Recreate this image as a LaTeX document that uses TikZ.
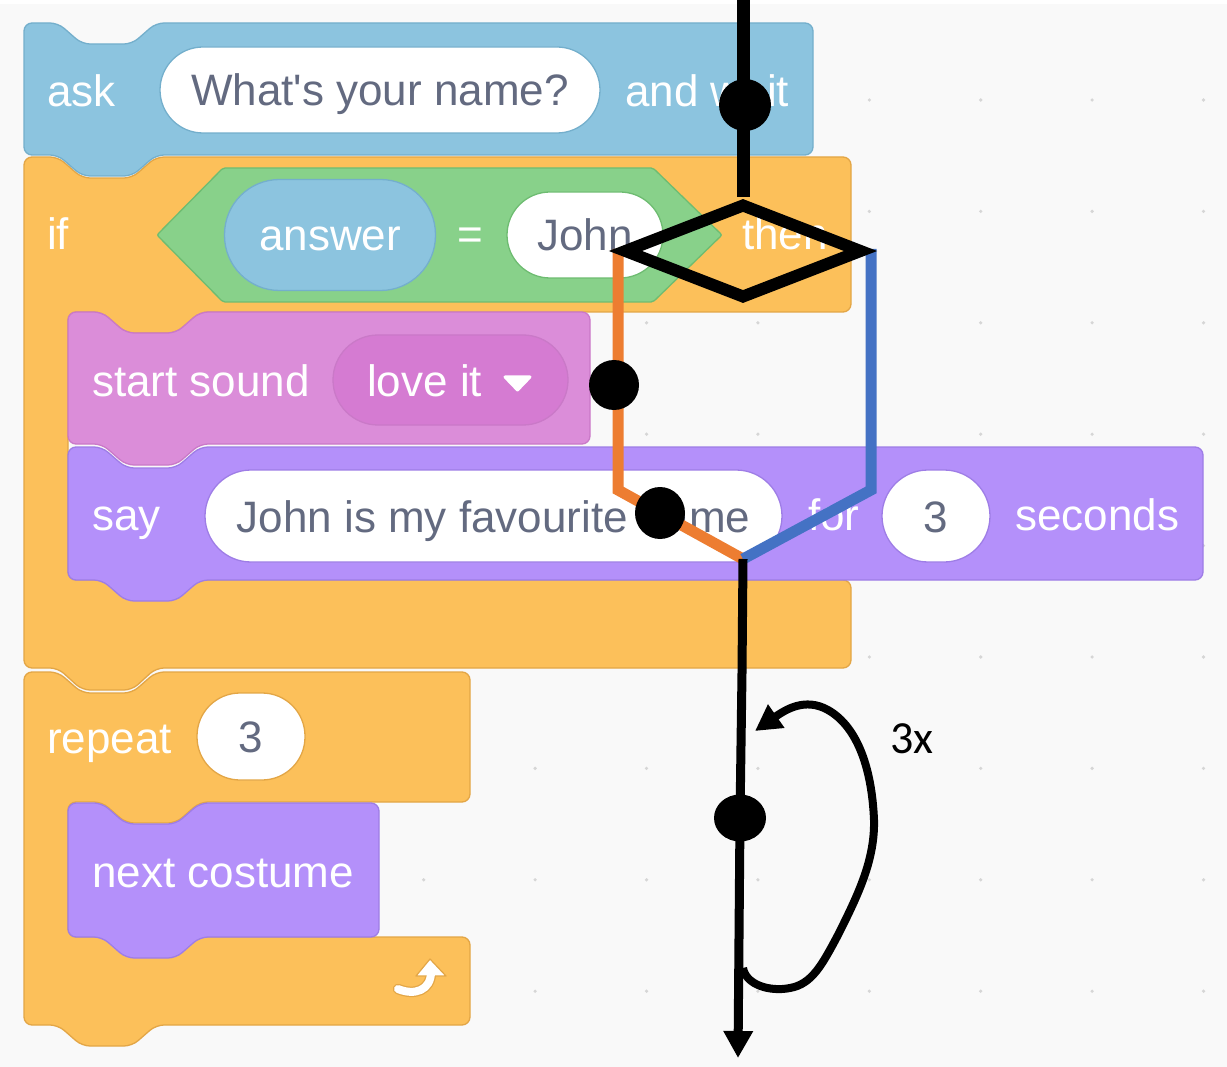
\documentclass[tikz,border=0pt]{standalone}
\usepackage{fontspec}
\newfontfamily\blockfont{Liberation Sans}
\newfontfamily\notefont{Carlito}
\usetikzlibrary{shapes.geometric,arrows.meta}

\definecolor{bgc}{HTML}{F9F9F9}
\definecolor{gridc}{HTML}{D6D6D6}
\definecolor{askfill}{HTML}{8CC4DF}
\definecolor{askline}{HTML}{74AFCC}
\definecolor{ctrlfill}{HTML}{FCC05A}
\definecolor{ctrlline}{HTML}{E3A646}
\definecolor{opfill}{HTML}{88D18A}
\definecolor{opline}{HTML}{6EBC71}
\definecolor{sndfill}{HTML}{DB8DD9}
\definecolor{sndline}{HTML}{CA79C8}
\definecolor{snddrop}{HTML}{D57BD2}
\definecolor{lookfill}{HTML}{B490FA}
\definecolor{lookline}{HTML}{9E7DE6}
\definecolor{txtgray}{HTML}{636A80}
\definecolor{yesc}{HTML}{ED7D31}
\definecolor{noc}{HTML}{4472C4}

% stack block: style, left, top, right, bottom (notch on top, tab below)
\newcommand\stackblock[5]{%
  \draw[#1] (#2,#3+30) -- (#2,#3) -- (#2+34,#3) -- (#2+58,#3+21) -- (#2+108,#3+21)
    -- (#2+132,#3) -- (#4,#3) -- (#4,#5) -- (#2+132,#5) -- (#2+108,#5+21)
    -- (#2+58,#5+21) -- (#2+34,#5) -- (#2,#5) -- cycle;}

\tikzset{
  blk/.style={rounded corners=8, line width=1.3},
  askblk/.style={blk, fill=askfill, draw=askline},
  ctrlblk/.style={blk, fill=ctrlfill, draw=ctrlline},
  sndblk/.style={blk, fill=sndfill, draw=sndline},
  lookblk/.style={blk, fill=lookfill, draw=lookline},
  lbl/.style={font=\blockfont\fontsize{44}{50}\selectfont, text=white, inner sep=0, anchor=base west},
  pill/.style={font=\blockfont\fontsize{44}{50}\selectfont, text=txtgray, fill=white,
    inner sep=0, text height=32, text depth=0, line width=1.3},
  bigdot/.style={circle, fill=black, inner sep=0},
  ovaldot/.style={ellipse, fill=black, inner sep=0},
  flowline/.style={line width=9, black},
  branch/.style={line width=11, line join=miter},
  decision/.style={diamond, draw=black, line width=12, minimum width=240, minimum height=96, inner sep=0}
}

\begin{document}
\begin{tikzpicture}[x=1pt, y=-1pt]
  \useasboundingbox (0,0) rectangle (1227,1067);
  \fill[bgc] (0,0) rectangle (1227,1067);
  \fill[white] (0,0) rectangle (1227,4);
  % workspace grid
  \foreach \i in {0,...,10}
    \foreach \j in {0,...,8}
      \fill[gridc] ({89.5+111.4*\i},{100+111.4*\j}) circle[radius=1.8];

  % ---- repeat block ----
  \draw[ctrlblk] (24,700) -- (24,672) -- (58,672) -- (82,693) -- (132,693) -- (156,672)
    -- (470,672) -- (470,802) -- (200,802) -- (176,823) -- (126,823) -- (102,802)
    -- (68,802) -- (68,937) -- (470,937) -- (470,1025) -- (156,1025) -- (132,1046)
    -- (82,1046) -- (58,1025) -- (24,1025) -- cycle;
  \node[lbl] (rep) at (47,753) {repeat};
  \node[pill, draw=ctrlline, rounded corners=43, minimum width=108, minimum height=87] (repn) at (251,736.5) {3};
  % loop-back icon
  \draw[ctrlline, line width=10.5, line cap=round] (398,989) .. controls (415,996) and (431,990) .. (431,972);
  \draw[ctrlline, fill=white, line width=1.2, line join=round] (430,959) -- (446,976) -- (416,976) -- cycle;
  \draw[white, line width=8, line cap=round] (398,989) .. controls (415,996) and (431,990) .. (431,972);

  \stackblock{lookblk}{68}{803}{379}{937}
  \node[lbl] (costume) at (92,887) {next costume};

  % ---- if block ----
  \draw[ctrlblk] (24,200) -- (24,157) -- (58,157) -- (82,178) -- (132,178) -- (156,157)
    -- (851,157) -- (851,312) -- (200,312) -- (176,333) -- (126,333) -- (102,312)
    -- (68,312) -- (68,580) -- (851,580) -- (851,668) -- (156,668) -- (132,690)
    -- (82,690) -- (58,668) -- (24,668) -- cycle;
  \node[lbl] (iflbl) at (47,250) {if};
  \draw[fill=opfill, draw=opline, line width=1.3, rounded corners=2]
    (157,235) -- (223,168) -- (653,168) -- (722,235) -- (653,302) -- (223,302) -- cycle;
  \node[pill, fill=askfill, draw=askline, text=white, rounded corners=55,
    minimum width=211, minimum height=111] (ans) at (330,235) {answer};
  \node[lbl, anchor=base] (eq) at (470,250) {=};
  \node[pill, draw=opline, rounded corners=43, minimum width=156, minimum height=86] (john) at (585,235) {John};
  \node[lbl] (then) at (742,250) {then};

  % ---- say block ----
  \stackblock{lookblk}{68}{447}{1203}{580}
  \node[lbl] (say) at (92,530) {say};
  \node[pill, draw=lookline, rounded corners=46, minimum width=577, minimum height=92] (fav) at (493.5,516) {John is my favourite name};
  \node[lbl] (for) at (808,530) {for};
  \node[pill, draw=lookline, rounded corners=46, minimum width=108, minimum height=92] (secs) at (936,516) {3};
  \node[lbl] (seconds) at (1015,530) {seconds};

  % ---- start sound block ----
  \stackblock{sndblk}{68}{312}{590}{444}
  \node[lbl] (snd) at (92,397) {start sound};
  \node[pill, fill=snddrop, draw=sndline, rounded corners=45, minimum width=235, minimum height=90] (drop) at (450.5,380) {};
  \node[lbl] (love) at (367,397) {love it};
  \draw[white, fill=white, line width=3, line join=round] (505,377) -- (530,377) -- (517.5,390) -- cycle;

  % ---- ask block ----
  \stackblock{askblk}{24}{23}{813}{155}
  \node[lbl] (ask) at (47,107) {ask};
  \node[pill, draw=askline, rounded corners=43, minimum width=440, minimum height=86] (question) at (380,90) {What's your name?};
  \node[lbl] (wait) at (625,107) {and wait};

  % ---- control-flow overlay ----
  \coordinate (src) at (743,0);
  \coordinate (askpt) at (745,105);
  \coordinate (yesA) at (618,249);
  \coordinate (yesB) at (618,490);
  \coordinate (noA) at (871,249);
  \coordinate (noB) at (871,490);
  \coordinate (merge) at (743,559);
  \coordinate (mid) at (742,673);
  \coordinate (costpt) at (740,818);
  \coordinate (sink) at (738,1058);
  \coordinate (loopFrom) at (743,968);
  \coordinate (loopTo) at (755,731);

  \draw[branch, yesc] (yesA) -- (yesB) -- (merge);
  \draw[branch, noc] (noA) -- (noB) -- (merge);
  \node[decision] (dec) at (743,251) {};
  \draw[line width=13] (src) -- (dec.north);
  \draw[flowline, -{Triangle[length=27pt,width=28pt]}] (merge) -- (mid) -- (costpt) -- (sink);
  \draw[line width=8, -{Triangle[length=26pt,width=27pt]}] (loopFrom)
    .. controls (746,985) and (770,992) .. (790,988)
    .. controls (812,984) and (822,965) .. (838,935)
    .. controls (858,895) and (875,860) .. (874,820)
    .. controls (872,770) and (858,727) .. (828,710)
    .. controls (805,697) and (785,710) .. (loopTo);

  \node[bigdot, minimum size=52] (d1) at (askpt) {};
  \node[bigdot, minimum size=50] (d2) at (614,385) {};
  \node[ovaldot, minimum width=50, minimum height=52] (d3) at (660,513) {};
  \node[ovaldot, minimum width=52, minimum height=47] (d4) at (costpt) {};
  \node[font=\notefont\fontsize{46}{50}\selectfont, inner sep=0, anchor=base west] (times) at (890,753) {3x};
\end{tikzpicture}
\end{document}
